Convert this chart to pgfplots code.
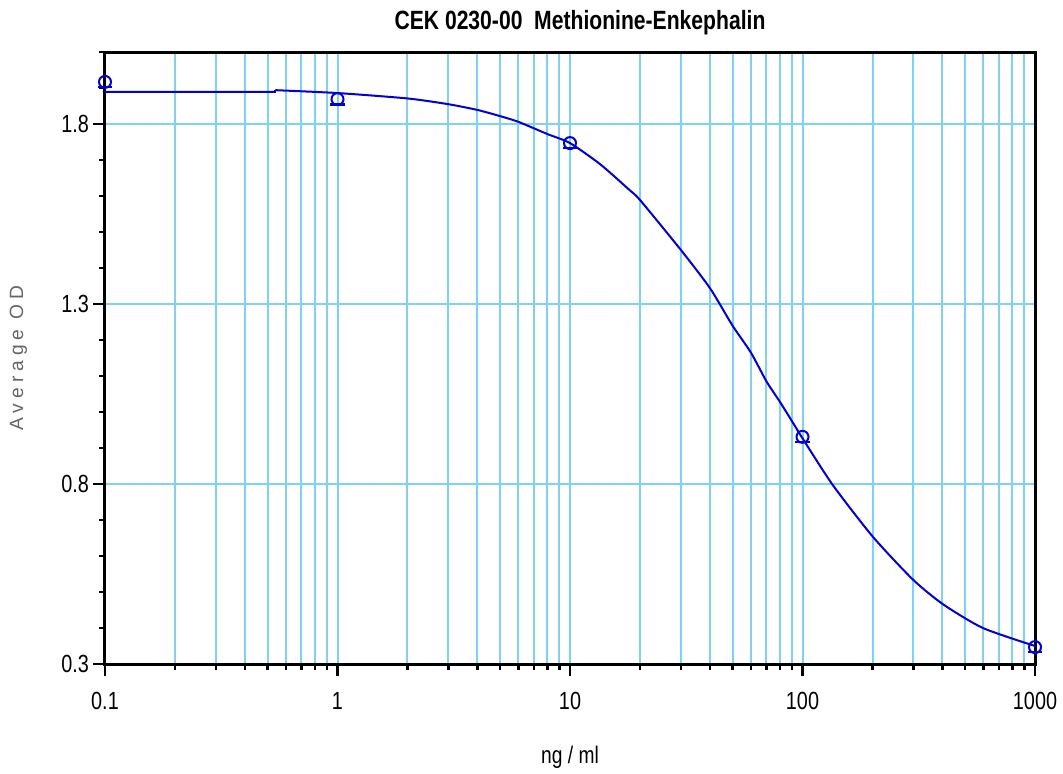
\documentclass[border=0pt]{standalone}
\usepackage{fontspec}
\setmainfont{Liberation Sans}[FakeStretch=0.8]
\newfontfamily\labelfont{Liberation Sans}[LetterSpace=26]
\usepackage{pgfplots}
\pgfplotsset{compat=1.18}
\definecolor{gridblue}{RGB}{128,210,245}
\definecolor{curveblue}{RGB}{0,0,215}
\begin{document}
\begin{tikzpicture}
\begin{axis}[
  at={(0,0)}, anchor=south west,
  scale only axis, width=465pt, height=306pt,
  xmode=log, xmin=0.1, xmax=1000, ymin=0.3, ymax=2.0,
  xtick={0.1,1,10,100,1000}, xticklabels={0.1,1,10,100,1000},
  ytick={0.3,0.8,1.3,1.8}, yticklabels={0.3,0.8,1.3,1.8},
  minor ytick={0.4,0.5,0.6,0.7,0.9,1.0,1.1,1.2,1.4,1.5,1.6,1.7,1.9,2.0},
  xmajorgrids, xminorgrids, ymajorgrids,
  grid style={gridblue, line width=1pt},
  major grid style={gridblue, line width=1pt},
  minor grid style={gridblue, line width=1pt},
  axis line style={black, line width=1.5pt},
  tick style={black, line width=1.3pt},
  tick align=outside, xtick pos=bottom, ytick pos=left,
  major tick length=6pt, minor tick length=2.8pt,
  tick label style={font=\fontsize{12.4}{14}\selectfont, text=black},
  xticklabel shift=4.5pt, yticklabel shift=-1.5pt,
  title={\textbf{CEK 0230-00\ \ Methionine-Enkephalin}},
  title style={font=\fontsize{13.2}{15}\selectfont, at={(axis description cs:0.5,1)}, anchor=center, yshift=8.5pt, xshift=5pt},
  xlabel={ng / ml},
  xlabel style={font=\fontsize{12}{14}\selectfont, at={(axis description cs:0.5,0)}, anchor=center, yshift=-46.5pt},
  ylabel={\labelfont Average OD},
  ylabel style={font=\fontsize{9.6}{11}\selectfont, text=black!60, at={(axis description cs:0,0.5)}, anchor=center, yshift=43.25pt},
]
\addplot[curveblue, line width=1pt, mark=none] coordinates {
(0.1,1.889) (0.538,1.889) (0.54,1.894)
};
\addplot[curveblue, line width=1pt, mark=none, smooth, tension=0.4] coordinates {
(0.54,1.894) (1,1.886) (2,1.871) (3,1.855) (4,1.839) (5,1.822) (6,1.806) (8,1.772) (10,1.747) (13.5,1.688) (18,1.617) (20,1.589) (30,1.45) (40,1.344) (50,1.24) (60,1.165) (70,1.085) (80,1.028) (90,0.975) (100,0.927) (135,0.797) (201,0.653) (298,0.535) (402,0.466) (597,0.40) (1000,0.35)
};
\addplot[curveblue, line width=1pt, only marks, mark=o, mark size=3pt, mark options={line width=1pt}] coordinates {
(0.1,1.917) (1,1.869) (10,1.747) (100,0.931) (1000,0.347)
};
\addplot[curveblue, line width=1.2pt, only marks, mark=-, mark size=3.6pt, mark options={yshift=-2.6pt, line width=1.2pt}] coordinates {
(0.1,1.917) (1,1.869) (10,1.747) (100,0.931) (1000,0.347)
};
\end{axis}
\pgfresetboundingbox
\path[use as bounding box] (-52.5pt,-54.5pt) rectangle (479pt,332pt);
\end{tikzpicture}
\end{document}
